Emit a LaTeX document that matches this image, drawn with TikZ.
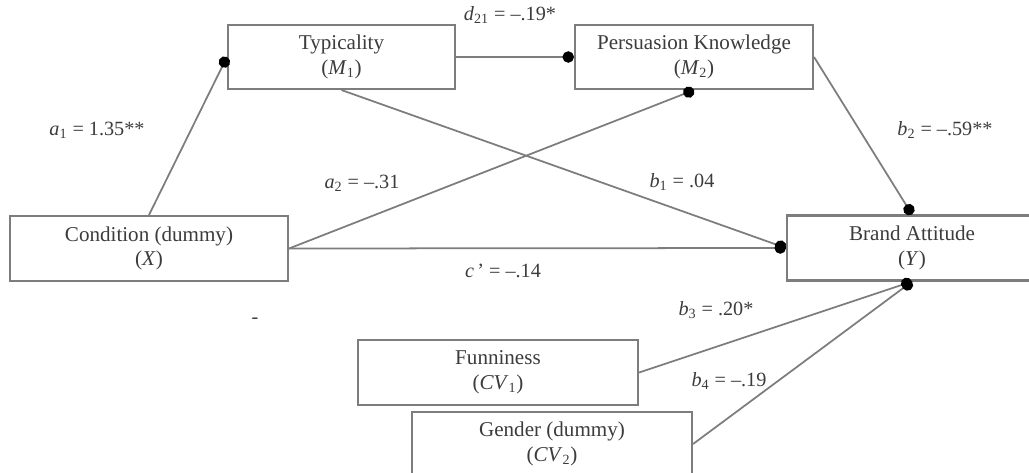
\documentclass[tikz,border=0pt]{standalone}
\usepackage{fontspec}
\setmainfont{Liberation Serif}
\usepackage{tikz}
\usetikzlibrary{arrows.meta}
\definecolor{path_gray}{RGB}{125, 125, 125}
\definecolor{text_gray}{RGB}{60, 60, 60}
\tikzstyle{var}=[rectangle,draw=path_gray,line width=1.2pt,fill=white,
  text=text_gray,align=center,inner sep=2pt,font=\fontsize{12}{14}\selectfont]
\tikzstyle{path}=[draw=path_gray,line width=1pt,-{Circle[length=6.5pt,black]}]
\tikzstyle{coef}=[text=text_gray,font=\fontsize{11.5}{13}\selectfont]

\begin{document}
\begin{tikzpicture}[x=0.02cm,y=-0.02cm]
    \useasboundingbox (0,0) rectangle (1029,473);
    \node [style=var,minimum width=227*0.02cm,minimum height=64*0.02cm] (typ) at (341.5,57)
      {Typicality\\(\textit{M}\textsubscript{1})};
    \node [style=var,minimum width=238*0.02cm,minimum height=64*0.02cm] (pk) at (694,57)
      {Persuasion Knowledge\\(\textit{M}\textsubscript{2})};
    \node [style=var,minimum width=278*0.02cm,minimum height=65*0.02cm] (cond) at (149,248.5)
      {Condition (dummy)\\(\textit{X})};
    \node [style=var,minimum width=250*0.02cm,minimum height=65*0.02cm] (ba) at (912,248)
      {Brand Attitude\\(\textit{Y})};
    \node [style=var,minimum width=280*0.02cm,minimum height=65*0.02cm] (fun) at (498,372.5)
      {Funniness\\(\textit{CV}\textsubscript{1})};
    \node [style=var,minimum width=280*0.02cm,minimum height=64*0.02cm] (gen) at (552,444)
      {Gender (dummy)\\(\textit{CV}\textsubscript{2})};
    \draw [style=path] (cond.north) to (typ.west);
    \draw [style=path] (typ.east) to (pk.west);
    \draw [style=path] (typ.south) to (ba.west);
    \draw [style=path] (cond.east) to (pk.south);
    \draw [style=path] (cond.east) to (ba.west);
    \draw [style=path] (pk.east) to (ba.north);
    \draw [style=path] (fun.east) to (ba.south);
    \draw [style=path] (gen.east) to (ba.south);
    \node [style=coef] (a1) at (97,130) {\textit{a}\textsubscript{1} = 1.35**};
    \node [style=coef] (d21) at (510,15) {\textit{d}\textsubscript{21} = –.19*};
    \node [style=coef] (a2) at (362,183) {\textit{a}\textsubscript{2} = –.31};
    \node [style=coef] (b1) at (682,182) {\textit{b}\textsubscript{1} = .04};
    \node [style=coef] (b2) at (945,130) {\textit{b}\textsubscript{2} = –.59**};
    \node [style=coef] (cp) at (503,271) {\textit{c}\,' = –.14};
    \node [style=coef] (b3) at (716,310) {\textit{b}\textsubscript{3} = .20*};
    \node [style=coef] (b4) at (729,381) {\textit{b}\textsubscript{4} = –.19};
    \node [style=coef] (dash) at (255,321) {-};
  \end{tikzpicture}
\end{document}
